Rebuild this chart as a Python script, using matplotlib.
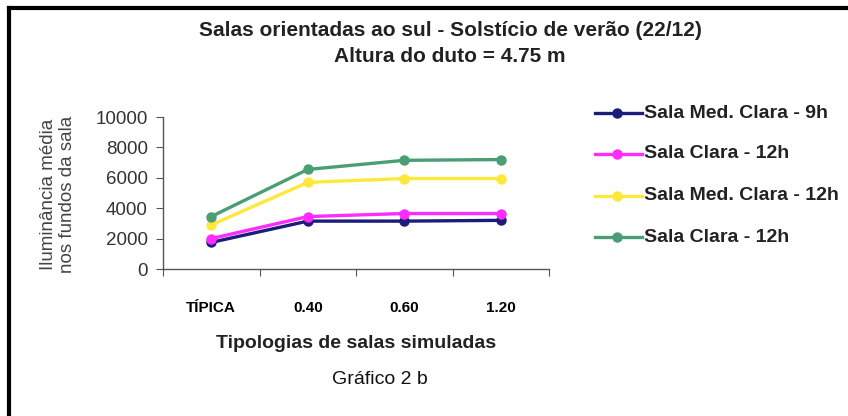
import numpy as np
import matplotlib.pyplot as plt
from matplotlib.lines import Line2D

plt.rcParams['font.family'] = ['Liberation Sans', 'DejaVu Sans']

# data
categorias = ['TÍPICA', '0.40', '0.60', '1.20']
series = ['Sala Med. Clara - 9h', 'Sala Clara - 12h',
          'Sala Med. Clara - 12h', 'Sala Clara - 12h']
med_clara_9h = [1750, 3150, 3150, 3200]
clara_12h_a = [2000, 3450, 3650, 3650]
med_clara_12h = [2900, 5700, 5950, 5950]
clara_12h_b = [3450, 6550, 7150, 7200]
valores = [med_clara_9h, clara_12h_a, med_clara_12h, clara_12h_b]
cores = ['#1c1c7a', '#ff2bff', '#ffe83a', '#4a9e74']
yticks = [0, 2000, 4000, 6000, 8000, 10000]

fig = plt.figure(figsize=(8.48, 4.16), dpi=100)
ax = fig.add_axes([163/848, 1-269/416, (549-163)/848, (269-117)/416])

x = np.arange(len(categorias)) + 0.5
for v, c, nome in zip(valores, cores, series):
    ax.plot(x, v, color=c, lw=2.4, marker='o', ms=6.5, label=nome)

ax.set_xlim(0, len(categorias))
ax.set_ylim(0, 10000)
ax.set_yticks(yticks)
ax.set_yticklabels([str(t) for t in yticks], fontsize=13.5, color='#333333')
ax.set_xticks(np.arange(len(categorias) + 1))
ax.set_xticklabels([])
ax.set_xticks(x, minor=True)
ax.set_xticklabels(categorias, minor=True, fontsize=11, fontweight='bold')
ax.tick_params(axis='x', which='minor', length=0, pad=23)
ax.tick_params(axis='x', which='major', direction='out', length=5, color='#555555')
ax.tick_params(axis='y', direction='out', length=5, pad=6, color='#555555')
for s in ['top', 'right']:
    ax.spines[s].set_visible(False)
for s in ['left', 'bottom']:
    ax.spines[s].set_color('#555555')
    ax.spines[s].set_linewidth(1)

fig.text(450/848, 1-30/416, 'Salas orientadas ao sul - Solstício de verão (22/12)',
         ha='center', va='center', fontsize=15, fontweight='bold', color='#222222')
fig.text(450/848, 1-57/416, 'Altura do duto = 4.75 m',
         ha='center', va='center', fontsize=15, fontweight='bold', color='#222222')
fig.text(58/848, 1-194/416, 'Iluminância média\nnos fundos da sala', rotation=90,
         ha='center', va='center', fontsize=13.5, color='#444444', linespacing=1.2)
fig.text(356/848, 1-343/416, 'Tipologias de salas simuladas',
         ha='center', va='center', fontsize=14, fontweight='bold', color='#222222')
fig.text(380/848, 1-379/416, 'Gráfico 2 b',
         ha='center', va='center', fontsize=14, color='#111111')

# legend drawn as figure artists
leg_y = [113, 154, 196, 237]
for yy, c, nome in zip(leg_y, cores, series):
    fy = 1 - yy/416
    fig.add_artist(Line2D([595/848, 642/848], [fy, fy], color=c, lw=2.4))
    fig.add_artist(Line2D([617/848], [fy], color=c, marker='o', ms=6.5))
    fig.text(644/848, fy, nome, ha='left', va='center', fontsize=14,
             fontweight='bold', color='#222222')

# frame lines (top and left)
fig.add_artist(Line2D([9/848, 1], [1-8/416, 1-8/416], color='black', lw=3))
fig.add_artist(Line2D([9/848, 9/848], [0, 1-8/416], color='black', lw=3))

fig.savefig('out.png', dpi=100)
